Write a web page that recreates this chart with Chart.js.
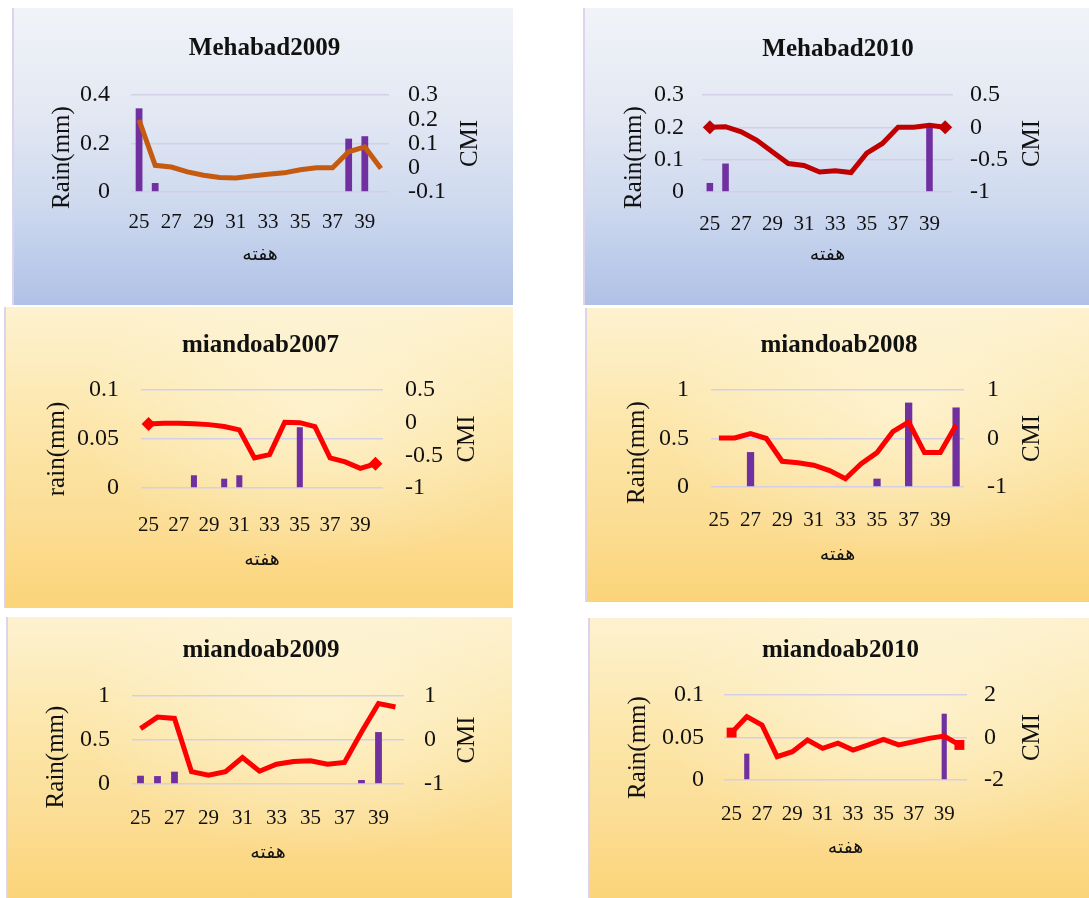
<!DOCTYPE html>
<html>
<head>
<meta charset="utf-8">
<script src="https://cdn.jsdelivr.net/npm/chart.js"></script>
<style>
  body { margin: 0; background: #fff; width: 1089px; height: 898px; position: relative; overflow: hidden; }
  .panel { position: absolute; box-sizing: border-box; border-left: 2px solid #ddd3ec; }
  .blue {
    background: linear-gradient(180deg, #f1f3f8 0%, #e3e8f3 35%, #cfdaef 65%, #afc1e6 100%);
  }
  .gold {
    background:
      radial-gradient(ellipse at 62% 35%, rgba(255,252,235,0.5) 0%, rgba(255,252,235,0) 55%),
      linear-gradient(180deg, #fdf2d0 0%, #fce6aa 40%, #fbdd94 72%, #fbd479 100%);
  }
  canvas { display: block; }
</style>
</head>
<body>
<div class="panel blue" style="left:12px;top:8px;width:501px;height:297px"><canvas id="c1" width="501" height="297"></canvas></div>
<div class="panel blue" style="left:583px;top:8px;width:506px;height:297px"><canvas id="c2" width="506" height="297"></canvas></div>
<div class="panel gold" style="left:4px;top:307px;width:509px;height:301px"><canvas id="c3" width="509" height="301"></canvas></div>
<div class="panel gold" style="left:585px;top:308px;width:504px;height:294px"><canvas id="c4" width="504" height="294"></canvas></div>
<div class="panel gold" style="left:6px;top:617px;width:506px;height:281px"><canvas id="c5" width="506" height="281"></canvas></div>
<div class="panel gold" style="left:588px;top:618px;width:501px;height:280px"><canvas id="c6" width="501" height="280"></canvas></div>

<script>
// weeks on the x axis
const weeks = [25, 26, 27, 28, 29, 30, 31, 32, 33, 34, 35, 36, 37, 38, 39, 40];

// rain (mm) per week, one array per station/year
const mehabad2009Rain = [0.345, 0.037, 0, 0, 0, 0, 0, 0, 0, 0, 0, 0, 0, 0.22, 0.23, 0];
const mehabad2010Rain = [0.028, 0.088, 0, 0, 0, 0, 0, 0, 0, 0, 0, 0, 0, 0, 0.2, 0];
const miandoab2007Rain = [0, 0, 0, 0.013, 0, 0.0095, 0.013, 0, 0, 0, 0.062, 0, 0, 0, 0, 0];
const miandoab2008Rain = [0, 0, 0.36, 0, 0, 0, 0, 0, 0, 0, 0.086, 0, 0.87, 0, 0, 0.82];
const miandoab2009Rain = [0.094, 0.09, 0.14, 0, 0, 0, 0, 0, 0, 0, 0, 0, 0, 0.045, 0.59, 0];
const miandoab2010Rain = [0, 0.031, 0, 0, 0, 0, 0, 0, 0, 0, 0, 0, 0, 0, 0.078, 0];

// CMI per week
const mehabad2009Cmi = [0.197, 0.01, 0.003, -0.017, -0.031, -0.04, -0.042, -0.034, -0.027, -0.021, -0.008, 0, 0, 0.066, 0.086, -0.003];
const mehabad2010Cmi = [0, 0.01, -0.07, -0.2, -0.38, -0.56, -0.59, -0.69, -0.67, -0.7, -0.4, -0.25, 0, 0, 0.03, 0];
const miandoab2007Cmi = [-0.02, -0.01, -0.01, -0.015, -0.03, -0.06, -0.11, -0.54, -0.49, 0.005, 0, -0.06, -0.54, -0.6, -0.7, -0.63];
const miandoab2008Cmi = [0.01, 0.01, 0.1, 0, -0.47, -0.5, -0.55, -0.66, -0.83, -0.52, -0.29, 0.14, 0.34, -0.29, -0.29, 0.28];
const miandoab2009Cmi = [0.26, 0.52, 0.49, -0.72, -0.8, -0.72, -0.4, -0.71, -0.55, -0.49, -0.47, -0.55, -0.51, 0.18, 0.83, 0.75];
const miandoab2010Cmi = [0.23, 0.98, 0.59, -0.9, -0.67, -0.12, -0.51, -0.27, -0.59, -0.35, -0.09, -0.35, -0.2, -0.04, 0.07, -0.35];

const xTitle = 'هفته';

const panels = [
  { id: 'c1', title: 'Mehabad2009', yTitle: 'Rain(mm)', rain: mehabad2009Rain, cmi: mehabad2009Cmi,
    yMax: 0.4, yStep: 0.2, cMin: -0.1, cMax: 0.3, cStep: 0.1, color: '#C55A11', marker: null },
  { id: 'c2', title: 'Mehabad2010', yTitle: 'Rain(mm)', rain: mehabad2010Rain, cmi: mehabad2010Cmi,
    yMax: 0.3, yStep: 0.1, cMin: -1, cMax: 0.5, cStep: 0.5, color: '#C00000', marker: 'rectRot' },
  { id: 'c3', title: 'miandoab2007', yTitle: 'rain(mm)', rain: miandoab2007Rain, cmi: miandoab2007Cmi,
    yMax: 0.1, yStep: 0.05, cMin: -1, cMax: 0.5, cStep: 0.5, color: '#FF0000', marker: 'rectRot' },
  { id: 'c4', title: 'miandoab2008', yTitle: 'Rain(mm)', rain: miandoab2008Rain, cmi: miandoab2008Cmi,
    yMax: 1, yStep: 0.5, cMin: -1, cMax: 1, cStep: 1, color: '#FF0000', marker: null },
  { id: 'c5', title: 'miandoab2009', yTitle: 'Rain(mm)', rain: miandoab2009Rain, cmi: miandoab2009Cmi,
    yMax: 1, yStep: 0.5, cMin: -1, cMax: 1, cStep: 1, color: '#FF0000', marker: null },
  { id: 'c6', title: 'miandoab2010', yTitle: 'Rain(mm)', rain: miandoab2010Rain, cmi: miandoab2010Cmi,
    yMax: 0.1, yStep: 0.05, cMin: -2, cMax: 2, cStep: 2, color: '#FF0000', marker: 'rect' }
];

// plot box and label placement per panel (pixels inside each canvas)
const frames = [
  { w: 501, h: 297, l: 117, r: 375, t: 87, b: 184, titleY: 41, yTitleX: 48, yTitleDy: 14, yPad: 21, cPad: 19, cmiX: 456, xPad: 10, xTitleY: 247, bar: 0.42 },
  { w: 506, h: 297, l: 117, r: 368, t: 87, b: 184, titleY: 42, yTitleX: 49, yTitleDy: 14, yPad: 18, cPad: 17, cmiX: 447, xPad: 12, xTitleY: 247, bar: 0.42 },
  { w: 509, h: 301, l: 135, r: 377, t: 83, b: 181, titleY: 39, yTitleX: 51, yTitleDy: 10, yPad: 22, cPad: 22, cmiX: 461, xPad: 16.5, xTitleY: 253, bar: 0.4 },
  { w: 504, h: 294, l: 124, r: 377, t: 82, b: 179, titleY: 38, yTitleX: 50, yTitleDy: 14, yPad: 22, cPad: 23, cmiX: 445, xPad: 12.5, xTitleY: 247, bar: 0.46 },
  { w: 506, h: 281, l: 124, r: 396, t: 79, b: 167, titleY: 34, yTitleX: 48, yTitleDy: 17, yPad: 22, cPad: 20, cmiX: 459, xPad: 13.5, xTitleY: 236, bar: 0.4 },
  { w: 501, h: 280, l: 134, r: 377, t: 77, b: 162, titleY: 33, yTitleX: 48, yTitleDy: 10, yPad: 20, cPad: 17, cmiX: 442, xPad: 14, xTitleY: 230, bar: 0.34 }
];

Chart.defaults.font.family = '"Liberation Serif", "Times New Roman", serif';
Chart.defaults.color = '#111';

// both value-axis titles, read bottom-to-top as in the original
const axisTitles = {
  id: 'axisTitles',
  afterDraw(chart, args, opts) {
    const { ctx, chartArea } = chart;
    const midY = (chartArea.top + chartArea.bottom) / 2;
    ctx.save();
    ctx.font = '25px "Liberation Serif"';
    ctx.fillStyle = '#111';
    ctx.textAlign = 'center';
    ctx.textBaseline = 'middle';
    [[opts.left, opts.leftX, midY + opts.leftDy], [opts.right, opts.rightX, midY]].forEach(([text, x, y]) => {
      ctx.save();
      ctx.translate(x, y);
      ctx.rotate(-Math.PI / 2);
      ctx.fillText(text, 0, 0);
      ctx.restore();
    });
    ctx.restore();
  }
};

const fmt = v => String(Math.round(v * 1000) / 1000);

panels.forEach((p, k) => {
  const f = frames[k];
  const n = weeks.length;
  const radius = weeks.map((w, i) => (p.marker && (i === 0 || i === n - 1)) ? 7 : 0);

  new Chart(document.getElementById(p.id), {
    data: {
      labels: weeks,
      datasets: [{
        type: 'line',
        data: p.cmi,
        yAxisID: 'y1',
        borderColor: p.color,
        backgroundColor: p.color,
        borderWidth: 5,
        tension: 0,
        pointStyle: p.marker || 'circle',
        pointRadius: radius,
        pointBorderWidth: 0,
        order: 0
      }, {
        type: 'bar',
        data: p.rain,
        yAxisID: 'y',
        backgroundColor: '#7030A0',
        barPercentage: f.bar,
        categoryPercentage: 1,
        order: 1
      }]
    },
    options: {
      responsive: false,
      animation: false,
      devicePixelRatio: 1,
      layout: { padding: 0 },
      plugins: {
        legend: { display: false },
        tooltip: { enabled: false },
        title: {
          display: true,
          text: p.title,
          color: '#111',
          font: { size: 25, weight: 'bold' },
          padding: { top: f.titleY - 15, bottom: f.t - f.titleY - 15 }
        },
        axisTitles: { left: p.yTitle, leftX: f.yTitleX, leftDy: f.yTitleDy, right: 'CMI', rightX: f.cmiX }
      },
      scales: {
        x: {
          grid: { display: false },
          border: { display: false },
          ticks: {
            autoSkip: false,
            maxRotation: 0,
            minRotation: 0,
            padding: f.xPad,
            font: { size: 21 },
            callback: (v, i) => i % 2 === 0 ? weeks[i] : ''
          },
          title: {
            display: true,
            text: xTitle,
            font: { family: '"DejaVu Sans"', size: 19 },
            padding: { top: 0, bottom: f.h - f.xTitleY - 11 }
          },
          afterFit: s => { s.height = f.h - f.b; }
        },
        y: {
          position: 'left',
          min: 0,
          max: p.yMax,
          grid: { color: '#d3cfe9', lineWidth: 1.5, drawTicks: false },
          border: { display: false },
          ticks: { autoSkip: false, stepSize: p.yStep, padding: f.yPad, font: { size: 24 }, callback: fmt },
          afterFit: s => { s.width = f.l; }
        },
        y1: {
          position: 'right',
          min: p.cMin,
          max: p.cMax,
          grid: { display: false, drawTicks: false },
          border: { display: false },
          ticks: { autoSkip: false, stepSize: p.cStep, padding: f.cPad, font: { size: 24 }, callback: fmt },
          afterFit: s => { s.width = f.w - f.r; }
        }
      }
    },
    plugins: [axisTitles]
  });
});
</script>
</body>
</html>
